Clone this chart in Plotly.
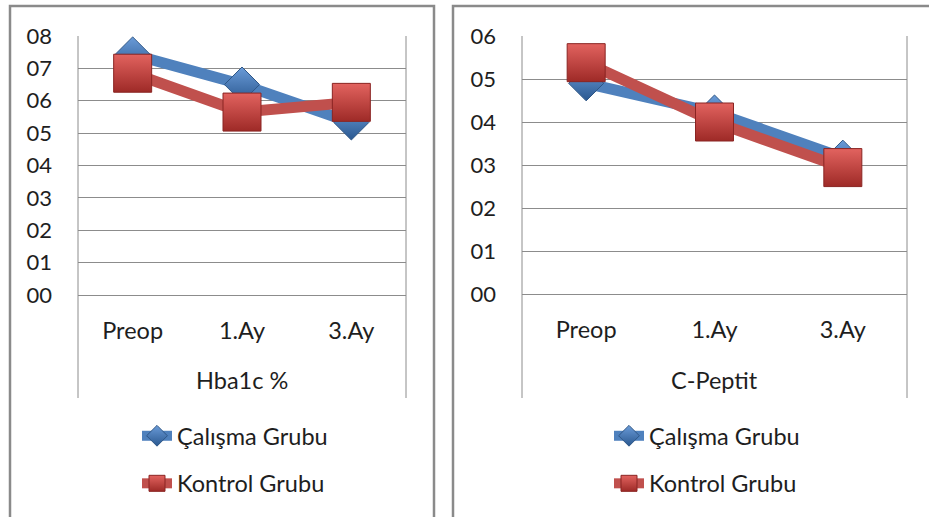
import plotly.graph_objects as go

# Measurement time points
categories = ["Preop", "1.Ay", "3.Ay"]

# HbA1c (%) per group
hba1c_calisma = [7.43, 6.50, 5.33]
hba1c_kontrol = [6.85, 5.65, 5.95]

# C-peptide per group
cpep_calisma = [4.90, 4.22, 3.17]
cpep_kontrol = [5.38, 4.00, 2.94]

series_names = ["Çalışma Grubu", "Kontrol Grubu"]
panel_titles = ["Hba1c %", "C-Peptit"]

W, H = 929, 517
BLUE = "#4F81BD"
RED = "#C0504D"
GRID = "#8C8C8C"
TEXT = "#1E1E1E"
FONT = "Lato, 'Open Sans', sans-serif"


def px_x(v):
    return v / W


def px_y(v):
    return 1 - v / H


fig = go.Figure()


def add_series(y, name, xa, ya, legend, is_blue):
    if is_blue:
        marker = dict(symbol="diamond", size=27, color="#6A9BD8",
                      gradient=dict(type="vertical", color="#2A5890"),
                      line=dict(color="#2E5686", width=1))
        color = BLUE
    else:
        marker = dict(symbol="square", size=38, color="#E2635F",
                      gradient=dict(type="vertical", color="#9E2A27"),
                      line=dict(color="#8A2422", width=1))
        color = RED
    fig.add_trace(go.Scatter(
        x=categories, y=y, name=name, mode="lines+markers",
        line=dict(color=color, width=11),
        marker=marker, xaxis=xa, yaxis=ya,
        legend=legend, legendgroup=legend + name,
    ))


add_series(hba1c_calisma, series_names[0], "x", "y", "legend", True)
add_series(hba1c_kontrol, series_names[1], "x", "y", "legend", False)
add_series(cpep_calisma, series_names[0], "x2", "y2", "legend2", True)
add_series(cpep_kontrol, series_names[1], "x2", "y2", "legend2", False)

tick_font = dict(family=FONT, size=22, color=TEXT)
label_font = dict(family=FONT, size=23.5, color=TEXT)
xcommon = dict(type="category", range=[-0.5, 2.5], showgrid=False,
               showline=True, linecolor=GRID, linewidth=1, ticks="",
               tickfont=label_font, ticklabelstandoff=15, fixedrange=True,
               automargin=False)
ycommon = dict(showgrid=True, gridcolor=GRID, gridwidth=1, zeroline=False,
               showline=False, ticks="", tickformat="02d", dtick=1,
               tickfont=tick_font, ticklabelstandoff=25, fixedrange=True,
               automargin=False)

legend_common = dict(xanchor="left", yanchor="top", font=label_font,
                     bgcolor="rgba(0,0,0,0)", tracegroupgap=14)

fig.update_layout(
    width=W, height=H,
    margin=dict(l=0, r=0, t=0, b=0, autoexpand=False),
    paper_bgcolor="white", plot_bgcolor="white",
    font=dict(family=FONT, color=TEXT),
    xaxis=dict(domain=[px_x(78), px_x(406)], anchor="y", **xcommon),
    yaxis=dict(domain=[px_y(295), px_y(36)], anchor="x", range=[0, 8], **ycommon),
    xaxis2=dict(domain=[px_x(522), px_x(907)], anchor="y2", **xcommon),
    yaxis2=dict(domain=[px_y(294), px_y(36)], anchor="x2", range=[0, 6], **ycommon),
    legend=dict(x=px_x(137), y=px_y(414), **legend_common),
    legend2=dict(x=px_x(609), y=px_y(414), **legend_common),
    showlegend=True,
)

shapes = []
# chart frames
shapes.append(dict(type="rect", xref="paper", yref="paper",
                   x0=px_x(10), x1=px_x(434), y0=px_y(530), y1=px_y(6),
                   line=dict(color="#8A8A8A", width=2.5), layer="below"))
shapes.append(dict(type="rect", xref="paper", yref="paper",
                   x0=px_x(453), x1=px_x(945), y0=px_y(530), y1=px_y(6),
                   line=dict(color="#8A8A8A", width=2.5), layer="below"))
# plot-area side borders running down through the category labels
for xa in ("x", "x2"):
    for xv in (0, 1):
        shapes.append(dict(type="line", xref=f"{xa} domain", yref="paper",
                           x0=xv, x1=xv, y0=px_y(398), y1=px_y(36),
                           line=dict(color=GRID, width=1), layer="below"))
fig.update_layout(shapes=shapes)

# axis titles below the category labels
for xa, title in (("x", panel_titles[0]), ("x2", panel_titles[1])):
    fig.add_annotation(text=title, xref=f"{xa} domain", yref="paper",
                       x=0.5, y=px_y(380), showarrow=False,
                       xanchor="center", yanchor="middle", font=label_font)

fig.write_html("out.html")
